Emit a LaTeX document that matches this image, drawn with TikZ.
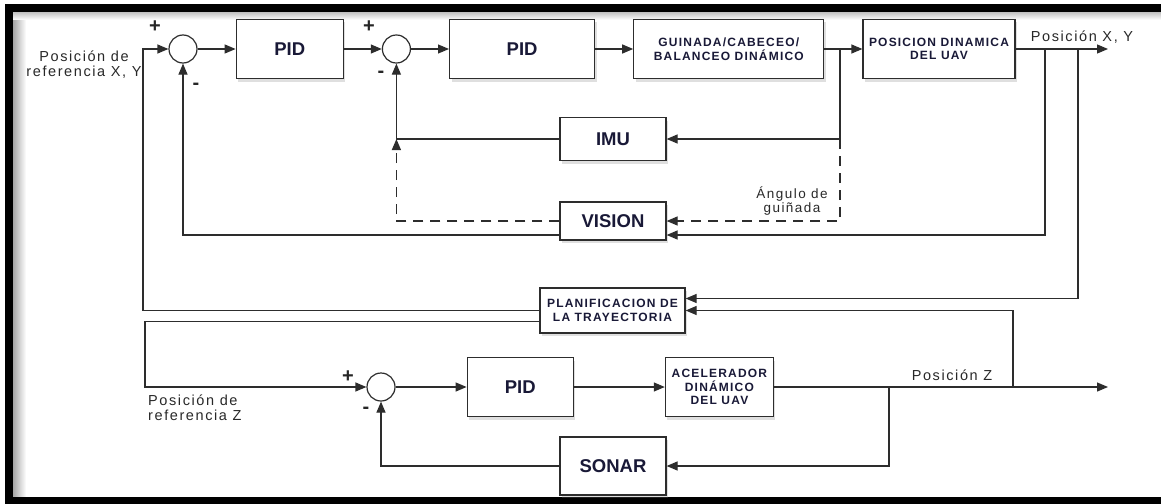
\documentclass[tikz,border=0pt]{standalone}
\usepackage{fontspec}
\setmainfont{Liberation Sans}
\newfontfamily\spcfont[LetterSpace=10]{Liberation Sans}
\newfontfamily\lblfont[LetterSpace=11]{Liberation Sans}
\usetikzlibrary{arrows.meta,positioning,shadows}

\definecolor{boxtext}{RGB}{25,25,55}
\definecolor{lbltext}{RGB}{40,40,40}
\definecolor{wire}{RGB}{45,45,45}

\newcommand{\bigtxt}{\fontsize{18.5}{20}\selectfont\bfseries}
\newcommand{\smalltxt}{\spcfont\bfseries\fontsize{12}{13.5}\selectfont}
\newcommand{\lbltxt}{\lblfont\fontsize{14.5}{15}\selectfont}

\begin{document}
\begin{tikzpicture}[
  x=1pt, y=-1pt,
  box/.style={draw=wire, line width=1.2pt, fill=white, align=center,
              text=boxtext, inner sep=2pt,
              drop shadow={shadow xshift=2pt, shadow yshift=-3pt, opacity=.25}},
  sumnode/.style={circle, draw=wire, line width=1.2pt, fill=white,
                  minimum size=28pt, inner sep=0pt},
  sgn/.style={font=\bfseries\fontsize{20}{20}\selectfont, text=black!85, inner sep=0pt},
  lbl/.style={align=center, text=lbltext, font=\lbltxt, inner sep=0pt},
  ln/.style={line width=1.2pt, draw=wire},
  arr/.style={ln, -{Triangle[length=11pt,width=9pt]}},
  dsh/.style={dash pattern=on 10pt off 7pt}
]
  \useasboundingbox (0,0) rectangle (1161,503);
  \clip (0,0) rectangle (1161,503);

  % frame
  \fill[left color=black!35, right color=white] (13,12) rectangle (26,497);
  \fill[top color=black!25, bottom color=white] (13,12) rectangle (1161,20);
  \draw[line width=8pt] (9,8) rectangle (1175,501);

  % lazo X, Y
  \node[sumnode] (sumA) at (183,49) {};
  \node[box, right=38pt of sumA, minimum width=107pt, minimum height=59pt, font=\bigtxt] (pidA) {PID};
  \node[sumnode, right=38pt of pidA] (sumB) {};
  \node[box, right=38pt of sumB, minimum width=145pt, minimum height=59pt, font=\bigtxt] (pidB) {PID};
  \node[box, right=38pt of pidB, minimum width=190pt, minimum height=59pt, font=\smalltxt] (guin) {GUINADA/CABECEO/\\BALANCEO DINÁMICO};
  \node[box, right=38pt of guin, minimum width=152pt, minimum height=59pt, font=\smalltxt] (posd) {POSICION DINAMICA\\DEL UAV};

  \node[box, minimum width=106pt, minimum height=43pt, font=\bigtxt] (imu) at (613,139) {IMU};
  \node[box, minimum width=106pt, minimum height=38pt, font=\bigtxt] (vision) at (613,221) {VISION};
  \node[box, minimum width=145pt, minimum height=45pt, font=\smalltxt] (plan) at (612.5,310.5) {PLANIFICACION DE\\LA TRAYECTORIA};

  % lazo Z
  \node[sumnode] (sumC) at (381,387) {};
  \node[box, right=71pt of sumC, minimum width=106pt, minimum height=59pt, font=\bigtxt] (pidC) {PID};
  \node[box, right=91pt of pidC, minimum width=108pt, minimum height=59pt, font=\smalltxt] (acel) {ACELERADOR\\DINÁMICO\\DEL UAV};
  \node[box, minimum width=106pt, minimum height=58pt, font=\bigtxt] (sonar) at (613,466) {SONAR};

  % signos
  \node[sgn] (pA) at (155,27) {+};
  \node[sgn] (mA) at (196,86) {-};
  \node[sgn] (pB) at (369,27) {+};
  \node[sgn] (mB) at (381,74) {-};
  \node[sgn] (pC) at (348,377) {+};
  \node[sgn] (mC) at (366,410) {-};

  % textos
  \node[lbl] (refXYtxt) at (84,65) {Posición de\\referencia X, Y};
  \node[lbl] (outXYtxt) at (1082,37) {Posición X, Y};
  \node[lbl, font=\lblfont\fontsize{13.5}{14}\selectfont] (angtxt) at (792,201) {Ángulo de\\guiñada};
  \node[lbl, align=left, anchor=west] (refZtxt) at (148,408) {Posición de\\referencia Z};
  \node[lbl] (outZtxt) at (952,375) {Posición Z};

  \coordinate (refXY) at (143,49);
  \coordinate (refZ) at (145,387);
  \coordinate (brA) at (840,49);
  \coordinate (brV) at (1045,49);
  \coordinate (brP) at (1078,49);
  \coordinate (outXY) at (1108,49);
  \coordinate (brS) at (889,387);
  \coordinate (brZ) at (1013,387);
  \coordinate (outZ) at (1108,387);

  \draw[arr] (sumA) -- (pidA);
  \draw[arr] (pidA) -- (sumB);
  \draw[arr] (sumB) -- (pidB);
  \draw[arr] (pidB) -- (guin);
  \draw[arr] (guin) -- (posd);
  \draw[arr] (posd) -- (outXY);
  \draw[arr] (brA) |- (imu.east);
  \draw[arr, dsh] (brA |- imu.east) |- (vision.east);
  \draw[arr] (imu.west) -| (sumB.south);
  \draw[arr, dsh] (vision.west) -| (sumB |- imu.west);
  \draw[arr] (brV) |- ([yshift=-14pt]vision.east);
  \draw[arr] ([yshift=-14pt]vision.west) -| (sumA.south);
  \draw[arr] (brP) |- ([yshift=12pt]plan.east);
  \draw[arr] (plan.west) -| (refXY) -- (sumA.west);
  \draw[arr] ([yshift=-11pt]plan.west) -| (refZ) -- (sumC.west);

  \draw[arr] (sumC) -- (pidC);
  \draw[arr] (pidC) -- (acel);
  \draw[arr] (acel) -- (outZ);
  \draw[arr] (brS) |- (sonar.east);
  \draw[arr] (sonar.west) -| (sumC.south);
  \draw[arr] (brZ) |- (plan.east);
\end{tikzpicture}
\end{document}
